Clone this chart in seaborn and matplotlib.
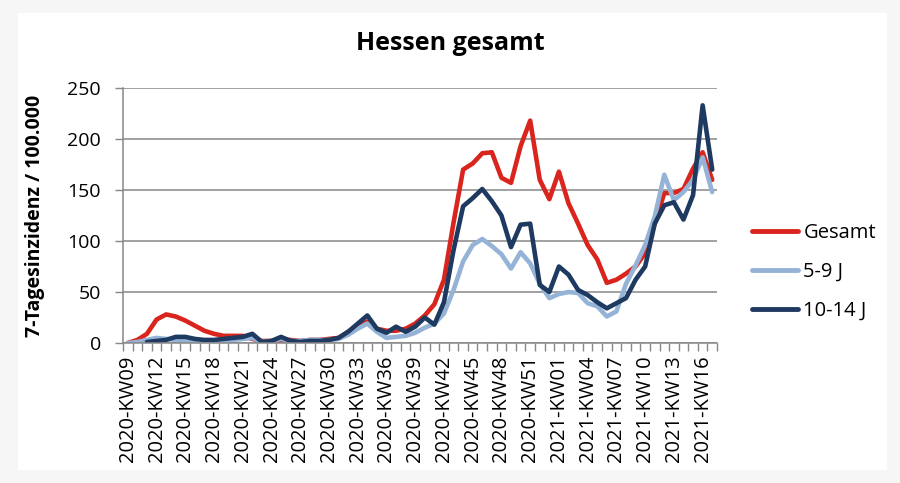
import matplotlib
matplotlib.use('Agg')
import matplotlib.pyplot as plt
import seaborn as sns
import numpy as np
import pandas as pd
from matplotlib.patches import Rectangle

weeks = [f"2020-KW{w:02d}" for w in range(9, 54)] + [f"2021-KW{w:02d}" for w in range(1, 18)]

gesamt = [0, 3, 9, 23, 28, 26, 22, 17, 12, 9,
          7, 7, 7, 4, 2, 2, 3, 3, 2, 3,
          3, 4, 5, 11, 16, 21, 14, 12, 12, 14,
          19, 27, 38, 62, 118, 170, 176, 186, 187, 162,
          157, 193, 218, 160, 141, 168, 137, 117, 96, 82,
          59, 62, 68, 75, 88, 117, 147, 147, 151, 171,
          187, 160]

j5_9 = [0, 1, 3, 5, 4, 3, 3, 2, 2, 2,
        2, 3, 4, 5, 1, 2, 4, 2, 2, 3,
        3, 3, 4, 8, 14, 19, 11, 5, 6, 7,
        10, 15, 19, 29, 52, 80, 96, 102, 95, 87,
        73, 89, 78, 58, 44, 48, 50, 49, 39, 36,
        26, 31, 58, 76, 96, 124, 165, 140, 148, 160,
        182, 148]

j10_14 = [np.nan, np.nan, 1, 2, 3, 6, 6, 4, 3, 3,
          4, 5, 6, 9, 1, 2, 6, 2, 1, 2,
          2, 3, 5, 11, 19, 27, 14, 10, 16, 11,
          16, 25, 18, 40, 91, 134, 142, 151, 139, 125,
          94, 116, 117, 57, 50, 75, 67, 52, 47, 40,
          34, 39, 44, 62, 75, 117, 135, 138, 121, 145,
          233, 170]

series_names = ["Gesamt", "5-9 J", "10-14 J"]
colors = {"Gesamt": "#D9251D", "5-9 J": "#95B3D7", "10-14 J": "#1F3A60"}

frames = []
for name, vals in zip(series_names, [gesamt, j5_9, j10_14]):
    frames.append(pd.DataFrame({"pos": np.arange(len(weeks)), "week": weeks,
                                "value": vals, "series": name}))
df = pd.concat(frames, ignore_index=True).dropna()

sns.set_theme(style="white")
plt.rcParams['font.family'] = ['Open Sans', 'DejaVu Sans']
for k in ['text.color', 'axes.labelcolor', 'xtick.color', 'ytick.color']:
    plt.rcParams[k] = 'black'

fig = plt.figure(figsize=(9, 4.83), dpi=100, facecolor='#f6f6f6')
fig.patches.append(Rectangle((18/900, 13/483), 869/900, 457/483, transform=fig.transFigure,
                             facecolor='white', edgecolor='none', zorder=-10))
ax = fig.add_axes([123/900, 140/483, 594/900, 255/483])
ax.set_zorder(5)
ax.set_facecolor('white')

sns.lineplot(data=df, x="pos", y="value", hue="series", hue_order=series_names,
             palette=colors, linewidth=3.3, estimator=None, sort=False, ax=ax)

ax.set_xlim(-0.5, len(weeks) - 0.5)
ax.set_ylim(0, 250)
ax.set_yticks(range(0, 251, 50))
gc = '#878787'
ax.grid(axis='y', color=gc, linewidth=1.1)
ax.grid(axis='x', visible=False)
ax.set_axisbelow(True)
for s in ['top', 'right']:
    ax.spines[s].set_visible(False)
for s in ['left', 'bottom']:
    ax.spines[s].set_color(gc)
    ax.spines[s].set_linewidth(1.1)

ax.set_xticks(range(0, len(weeks), 3))
ax.set_xticklabels(weeks[::3], rotation=90, fontsize=14.5)
ax.set_xticks(np.arange(-0.5, len(weeks), 1), minor=True)
ax.tick_params(axis='x', which='major', length=0, pad=9, labelcolor='black')
ax.tick_params(axis='x', which='minor', length=6, width=1, color=gc, direction='out', bottom=True)
ax.tick_params(axis='y', which='major', length=6, width=1, color=gc, pad=10, labelsize=14,
               left=True, labelcolor='black')

ax.set_xlabel("")
ax.set_ylabel("7-Tagesinzidenz / 100.000", fontsize=14, fontweight='bold', color='black')
ax.yaxis.set_label_coords((45 - 123) / 594, 0.5)

fig.text(0.5, 1 - 50/483, "Hessen gesamt", ha='center', va='baseline',
         fontsize=18, fontweight='bold', color='black')

handles, labels = ax.get_legend_handles_labels()
ax.legend(handles, labels, loc='center left', bbox_to_anchor=(752/900, 1 - 272/483),
          bbox_transform=fig.transFigure, frameon=False, fontsize=14.5,
          handlelength=2.3, handletextpad=0.25, labelspacing=0.95,
          borderpad=0, borderaxespad=0)
for l in ax.get_legend().get_lines():
    l.set_linewidth(3.5)

fig.savefig("out.png", dpi=100, facecolor=fig.get_facecolor())
